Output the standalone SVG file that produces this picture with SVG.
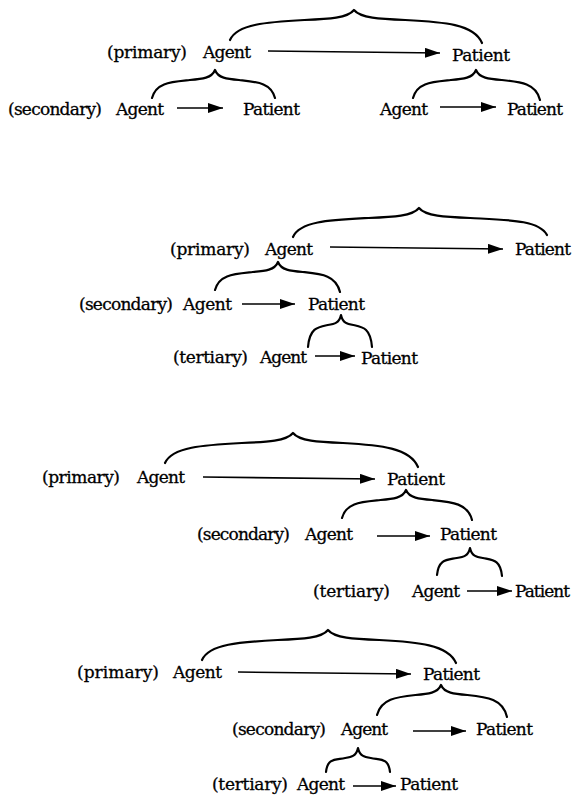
<svg xmlns="http://www.w3.org/2000/svg" width="573" height="795" viewBox="0 0 573 795">
<defs>
<style>
text{font-family:"DejaVu Serif","Liberation Serif",serif;font-size:17px;fill:#000;stroke:#000;stroke-width:0.3}
.br{fill:none;stroke:#000;stroke-width:2.2;stroke-linecap:round;stroke-linejoin:round}
.ar{fill:none;stroke:#000;stroke-width:1.6;marker-end:url(#ah)}
</style>
<marker id="ah" markerUnits="userSpaceOnUse" markerWidth="15" markerHeight="10" refX="15" refY="5" orient="auto"><path d="M0,0 L15,5 L0,10 z" fill="#000"/></marker>
</defs>
<rect width="573" height="795" fill="#fff"/>

<g id="connectors">
<g id="arrows">
<path class="ar" d="M268,51 L440,53"/>
<path class="ar" d="M177,108 L223,108"/>
<path class="ar" d="M440,107 L496,107"/>
<path class="ar" d="M330,247 L503,249"/>
<path class="ar" d="M242,304 L295,304"/>
<path class="ar" d="M315,356 L355,356"/>
<path class="ar" d="M203,477 L375,479"/>
<path class="ar" d="M377,536 L430,536"/>
<path class="ar" d="M467,591 L512,591"/>
<path class="ar" d="M238,672 L411,674"/>
<path class="ar" d="M413,731 L466,731"/>
<path class="ar" d="M353,786 L396,786"/>
</g>
<g id="braces">
<path class="br" d="M230,40 C237,24 267.2,22 304.4,20 C329.2,19 347.8,18 354,10 C360.4,18 379.6,19 405.2,20 C443.6,22 474,24 482,43"/>
<path class="br" d="M152,98 C156,82.5 170.9,82 189.8,80 C202.4,79 211.9,78 215,70 C218,78 227,79 239,80 C257,82 271,82.5 275,98"/>
<path class="br" d="M413,98 C417,82.5 431.9,82 450.8,80 C463.4,79 472.9,78 476,70 C479.2,78 488.8,79 501.6,80 C520.8,82 536,83.5 540,100"/>
<path class="br" d="M293,237 C300,221 330.8,220 368.6,218 C393.8,217 412.7,216 419,208 C425.4,216 444.6,217 470.2,218 C508.6,220 539,220 547,235"/>
<path class="br" d="M215,290 C219,274.5 233.9,274 252.8,272 C265.4,271 274.9,270 278,262 C281.1,270 290.4,271 302.8,272 C321.4,274 336,275 340,292"/>
<path class="br" d="M308,347 C309.7,327.8 317.9,327 327.8,325 C334.4,324 339.4,323 341,315 C342.6,323 347.2,324 353.4,325 C362.7,327 370.5,327.8 372,347"/>
<path class="br" d="M165,463 C172,447 203.4,445 241.8,443 C267.4,442 286.6,441 293,433 C299.3,441 318,442 343,443 C380.5,445 410,448 418,467"/>
<path class="br" d="M342,518 C346,502.5 361.2,502 380.4,500 C393.2,499 402.8,498 406,490 C409.3,498 419.2,499 432.4,500 C452.2,502 468,503.5 472,520"/>
<path class="br" d="M437,575 C438.7,558.8 446.9,560 456.8,558 C463.4,557 468.4,556 470,548 C471.6,556 476.4,557 482.8,558 C492.4,560 500.4,559.2 502,576"/>
<path class="br" d="M202,660 C209,644 239.8,642 277.6,640 C302.8,639 321.7,638 328,630 C334.4,638 353.6,639 379.2,640 C417.6,642 448,644.5 456,663"/>
<path class="br" d="M377,715 C381,699 396.2,697 415.4,695 C428.2,694 437.8,693 441,685 C444.3,693 454.2,694 467.4,695 C487.2,697 503,699 507,717"/>
<path class="br" d="M326,772 C327.6,757.6 335.6,760 345.2,758 C351.6,757 356.4,756 358,748 C359.6,756 364.4,757 370.8,758 C380.4,760 388.4,757.6 390,772"/>
</g>
</g>

<g id="p1-primary-label"><text x="107" y="58" textLength="80" lengthAdjust="spacing">(primary)</text></g>
<g id="p1-primary-agent"><text x="203" y="58" textLength="48" lengthAdjust="spacing">Agent</text></g>
<g id="p1-primary-patient"><text x="452" y="61" textLength="58" lengthAdjust="spacing">Patient</text></g>
<g id="p1-secondary-label"><text x="8" y="115" textLength="94" lengthAdjust="spacing">(secondary)</text></g>
<g id="p1-secondary-agent"><text x="116" y="115" textLength="48" lengthAdjust="spacing">Agent</text></g>
<g id="p1-secondary-patient"><text x="243" y="115" textLength="57" lengthAdjust="spacing">Patient</text></g>
<g id="p1-right-agent"><text x="380" y="115" textLength="48" lengthAdjust="spacing">Agent</text></g>
<g id="p1-right-patient"><text x="507" y="115" textLength="56" lengthAdjust="spacing">Patient</text></g>

<g id="p2-primary-label"><text x="170" y="255" textLength="80" lengthAdjust="spacing">(primary)</text></g>
<g id="p2-primary-agent"><text x="265" y="255" textLength="48" lengthAdjust="spacing">Agent</text></g>
<g id="p2-primary-patient"><text x="515" y="255" textLength="56" lengthAdjust="spacing">Patient</text></g>
<g id="p2-secondary-label"><text x="79" y="310" textLength="94" lengthAdjust="spacing">(secondary)</text></g>
<g id="p2-secondary-agent"><text x="183" y="310" textLength="49" lengthAdjust="spacing">Agent</text></g>
<g id="p2-secondary-patient"><text x="308" y="310" textLength="57" lengthAdjust="spacing">Patient</text></g>
<g id="p2-tertiary-label"><text x="173" y="363" textLength="75" lengthAdjust="spacing">(tertiary)</text></g>
<g id="p2-tertiary-agent"><text x="260" y="363" textLength="47" lengthAdjust="spacing">Agent</text></g>
<g id="p2-tertiary-patient"><text x="361" y="364" textLength="57" lengthAdjust="spacing">Patient</text></g>

<g id="p3-primary-label"><text x="42" y="483" textLength="78" lengthAdjust="spacing">(primary)</text></g>
<g id="p3-primary-agent"><text x="137" y="483" textLength="48" lengthAdjust="spacing">Agent</text></g>
<g id="p3-primary-patient"><text x="387" y="485" textLength="58" lengthAdjust="spacing">Patient</text></g>
<g id="p3-secondary-label"><text x="197" y="540" textLength="93" lengthAdjust="spacing">(secondary)</text></g>
<g id="p3-secondary-agent"><text x="305" y="540" textLength="48" lengthAdjust="spacing">Agent</text></g>
<g id="p3-secondary-patient"><text x="440" y="540" textLength="57" lengthAdjust="spacing">Patient</text></g>
<g id="p3-tertiary-label"><text x="313" y="597" textLength="77" lengthAdjust="spacing">(tertiary)</text></g>
<g id="p3-tertiary-agent"><text x="412" y="597" textLength="48" lengthAdjust="spacing">Agent</text></g>
<g id="p3-tertiary-patient"><text x="515" y="597" textLength="55" lengthAdjust="spacing">Patient</text></g>

<g id="p4-primary-label"><text x="77" y="678" textLength="82" lengthAdjust="spacing">(primary)</text></g>
<g id="p4-primary-agent"><text x="173" y="678" textLength="49" lengthAdjust="spacing">Agent</text></g>
<g id="p4-primary-patient"><text x="423" y="680" textLength="57" lengthAdjust="spacing">Patient</text></g>
<g id="p4-secondary-label"><text x="232" y="735" textLength="94" lengthAdjust="spacing">(secondary)</text></g>
<g id="p4-secondary-agent"><text x="341" y="735" textLength="47" lengthAdjust="spacing">Agent</text></g>
<g id="p4-secondary-patient"><text x="476" y="735" textLength="57" lengthAdjust="spacing">Patient</text></g>
<g id="p4-tertiary-label"><text x="212" y="790" textLength="76" lengthAdjust="spacing">(tertiary)</text></g>
<g id="p4-tertiary-agent"><text x="297" y="790" textLength="48" lengthAdjust="spacing">Agent</text></g>
<g id="p4-tertiary-patient"><text x="400" y="790" textLength="58" lengthAdjust="spacing">Patient</text></g>
</svg>
